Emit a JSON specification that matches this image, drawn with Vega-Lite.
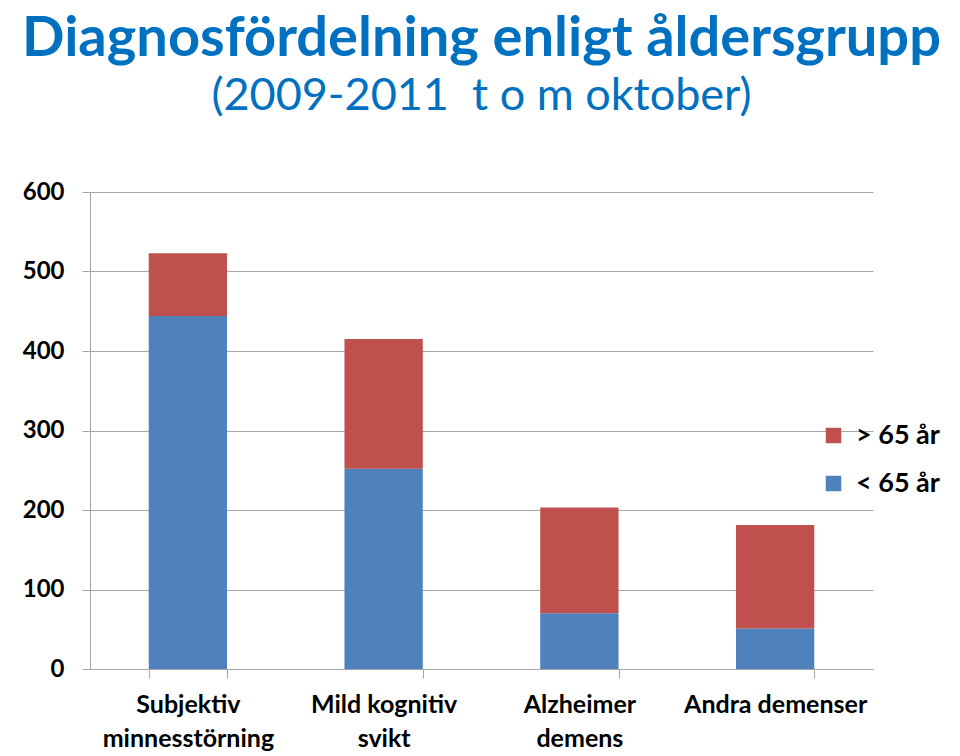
{
  "$schema": "https://vega.github.io/schema/vega-lite/v6.json",
  "autosize": "none",
  "padding": {"left": 90, "top": 192, "right": 87, "bottom": 87},
  "width": 783,
  "height": 477,
  "background": "white",
  "title": {
    "text": "Diagnosfördelning enligt åldersgrupp",
    "subtitle": "(2009-2011\u00a0 t o m oktober)",
    "anchor": "middle",
    "frame": "group",
    "font": "Lato",
    "fontSize": 56,
    "fontWeight": "bold",
    "color": "#0070C0",
    "subtitleFont": "Lato",
    "subtitleFontSize": 45,
    "subtitleFontWeight": "normal",
    "subtitleColor": "#0070C0",
    "subtitlePadding": 6,
    "offset": 60
  },
  "data": {
    "values": [
      {"diagnos": "Subjektiv\nminnesstörning", "grupp": "< 65 år", "antal": 444},
      {"diagnos": "Subjektiv\nminnesstörning", "grupp": "> 65 år", "antal": 79},
      {"diagnos": "Mild kognitiv\nsvikt", "grupp": "< 65 år", "antal": 252},
      {"diagnos": "Mild kognitiv\nsvikt", "grupp": "> 65 år", "antal": 163},
      {"diagnos": "Alzheimer\ndemens", "grupp": "< 65 år", "antal": 70},
      {"diagnos": "Alzheimer\ndemens", "grupp": "> 65 år", "antal": 133},
      {"diagnos": "Andra demenser", "grupp": "< 65 år", "antal": 51},
      {"diagnos": "Andra demenser", "grupp": "> 65 år", "antal": 130}
    ]
  },
  "mark": {"type": "bar"},
  "encoding": {
    "x": {
      "field": "diagnos",
      "type": "nominal",
      "sort": null,
      "scale": {"paddingInner": 0.6, "paddingOuter": 0.3},
      "axis": {
        "title": null,
        "labelAngle": 0,
        "labelExpr": "split(datum.label, '\\n')",
        "labelFont": "Lato",
        "labelFontSize": 25,
        "labelFontWeight": "bold",
        "labelColor": "black",
        "labelLineHeight": 34,
        "labelBaseline": "top",
        "labelPadding": 14,
        "labelLimit": 300,
        "tickBand": "extent",
        "tickSize": 9,
        "tickColor": "#A6A6A6",
        "domainColor": "#A6A6A6",
        "grid": false
      }
    },
    "y": {
      "field": "antal",
      "type": "quantitative",
      "stack": "zero",
      "scale": {"domain": [0, 600], "nice": false},
      "axis": {
        "title": null,
        "values": [0, 100, 200, 300, 400, 500, 600],
        "labelFont": "Lato",
        "labelFontSize": 24,
        "labelFontWeight": "bold",
        "labelColor": "black",
        "labelPadding": 18,
        "tickSize": 8,
        "tickColor": "#A6A6A6",
        "domainColor": "#A6A6A6",
        "gridColor": "#A6A6A6",
        "gridWidth": 1.2
      }
    },
    "color": {
      "field": "grupp",
      "type": "nominal",
      "scale": {"domain": ["> 65 år", "< 65 år"], "range": ["#C0504D", "#4F81BD"]},
      "legend": {
        "title": null,
        "orient": "none",
        "legendX": 730,
        "legendY": 230,
        "symbolType": "square",
        "symbolSize": 240,
        "symbolStrokeWidth": 0,
        "symbolOpacity": 1,
        "labelFont": "Lato",
        "labelFontSize": 27,
        "labelFontWeight": "bold",
        "labelColor": "black",
        "labelOffset": 9,
        "rowPadding": 20
      }
    },
    "order": {"field": "grupp", "sort": "ascending"}
  },
  "config": {
    "view": {"stroke": null},
    "axis": {"gridColor": "#A6A6A6"}
  }
}
